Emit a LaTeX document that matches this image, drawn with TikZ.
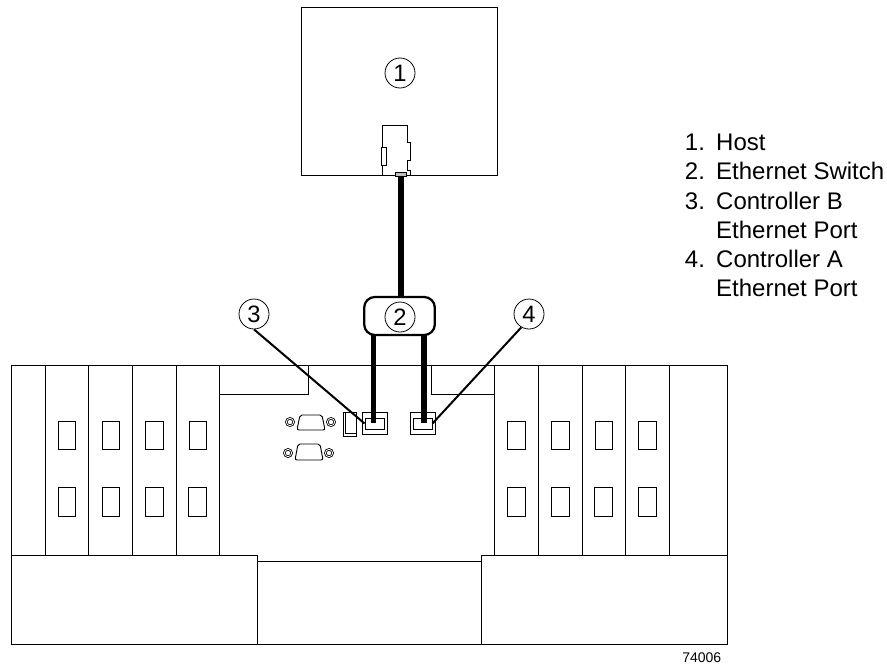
\documentclass[tikz,border=0pt]{standalone}
\usepackage{fontspec}
\setmainfont{Liberation Sans}
\usetikzlibrary{positioning}
\tikzset{
    panel/.style={draw=black, line width=0.7pt},
    callout/.style={draw, circle, inner sep=0pt, minimum size=22.5pt, line width=0.6pt, fill=white, font=\fontsize{17.8}{20}\selectfont},
    cable/.style={line width=4.3pt},
    leader/.style={line width=1.5pt},
    portouter/.style={draw, line width=0.7pt, inner sep=0pt, minimum width=18.75pt, minimum height=16.5pt},
    portinner/.style={draw, line width=0.7pt, inner sep=0pt, minimum width=14.25pt, minimum height=8.25pt},
    screw/.style={draw, circle, line width=0.6pt, inner sep=0pt, minimum size=5.5pt, double, double distance=0.6pt}
}

\begin{document}
\begin{tikzpicture}[x=0.75pt, y=-0.75pt, every node/.style={align=left}]
    \useasboundingbox (0,0) rectangle (887,664);

    % host
    \draw[panel] (301,7) rectangle (497,175);
    \draw[panel] (382,175) -- (382,125) -- (407,125) -- (407,142) -- (410,142) -- (410,160) -- (407,160) -- (407,170) -- (410,170) -- (410,175);
    \draw[panel, fill=white] (381,147) rectangle (386,165);
    \node[draw, line width=0.7pt, fill=lightgray, inner sep=0pt, minimum width=8.25pt, minimum height=3pt] (hostport) at (401,174) {};
    \node[callout] (c1) at (400,73) {1};

    % chassis
    \draw[panel] (11,365) rectangle (727,644);
    \draw[panel] (219,365) -- (219,394) -- (308,394) -- (308,365);
    \draw[panel] (431,365) -- (431,394) -- (494,394);
    \draw[panel] (45,365) rectangle (88,555);
    \draw[panel] (88,365) rectangle (132,555);
    \draw[panel] (132,365) rectangle (176,555);
    \draw[panel] (176,365) rectangle (219,555);
    \draw[panel] (494,365) rectangle (538,555);
    \draw[panel] (538,365) rectangle (582,555);
    \draw[panel] (582,365) rectangle (625,555);
    \draw[panel] (625,365) rectangle (669,555);
    \draw[panel] (11,555) -- (257,555) -- (257,644);
    \draw[panel] (257,561) -- (481,561);
    \draw[panel] (481,644) -- (481,555) -- (727,555);

    % windows
    \draw[panel] (58,421) rectangle (75,449);
    \draw[panel] (102,421) rectangle (119,449);
    \draw[panel] (145,421) rectangle (163,449);
    \draw[panel] (189,421) rectangle (206,449);
    \draw[panel] (58,487) rectangle (75,516);
    \draw[panel] (102,487) rectangle (119,516);
    \draw[panel] (145,487) rectangle (163,516);
    \draw[panel] (188,487) rectangle (206,516);
    \draw[panel] (507,421) rectangle (525,449);
    \draw[panel] (551,421) rectangle (569,449);
    \draw[panel] (595,421) rectangle (612,449);
    \draw[panel] (638,421) rectangle (656,449);
    \draw[panel] (507,487) rectangle (525,516);
    \draw[panel] (551,487) rectangle (569,516);
    \draw[panel] (594,487) rectangle (612,516);
    \draw[panel] (638,487) rectangle (656,516);

    % serial connectors
    \node[screw] (screwa) at (290,422) {};
    \node[screw] (screwb) at (331,422) {};
    \draw[panel, rounded corners=1.5pt] (300,415) -- (322,415) -- (325,430) -- (297,430) -- cycle;
    \node[screw] (screwc) at (288,453) {};
    \node[screw] (screwd) at (329,453) {};
    \draw[panel, rounded corners=1.5pt] (298,444) -- (320,444) -- (323,460) -- (295,460) -- cycle;

    % usb
    \draw[panel] (343,412) rectangle (356,436);
    \draw[panel] (345,412) -- (345,433) -- (356,433);

    % ports
    \node[portouter] (portb) at (374.5,423) {};
    \node[portinner] (portbin) at (374.5,423.5) {};
    \node[portouter] (porta) at (422.5,423) {};
    \node[portinner] (portain) at (422.5,423.5) {};

    % switch
    \node[draw, rounded corners=8pt, line width=1.7pt, minimum width=53pt, minimum height=28.5pt, inner sep=0pt, fill=white] (switch) at (399.5,316) {};
    \node[callout] (c2) at (400,317) {2};
    \coordinate (switchb) at (373.5,335);
    \coordinate (switcha) at (424,335);
    \coordinate (portbend) at (373.5,423);
    \coordinate (portaend) at (424,423);

    \draw[cable] (hostport.south) -- (hostport.south |- switch.north);
    \draw[cable] (switchb) -- (portbend);
    \draw[cable] (switcha) -- (portaend);

    \node[callout] (c3) at (254,314) {3};
    \node[callout] (c4) at (529,314) {4};
    \draw[leader] (c3.south) -- (portbin.west);
    \draw[leader] (c4.240) -- (portain.east);

    % legend
    \node[anchor=north west, inner sep=0pt] (legend) at (684.7,130) {\fontsize{18}{21.9}\selectfont
        \begin{tabular}{@{}l@{\hspace{8.4pt}}l@{}}
            1. & Host\\
            2. & Ethernet Switch\\
            3. & Controller B\\
               & Ethernet Port\\
            4. & Controller A\\
               & Ethernet Port
        \end{tabular}};
    \node[anchor=base east, inner sep=0pt, font=\fontsize{10.5}{12}\selectfont] (partno) at (721.5,662) {74006};
\end{tikzpicture}
\end{document}
